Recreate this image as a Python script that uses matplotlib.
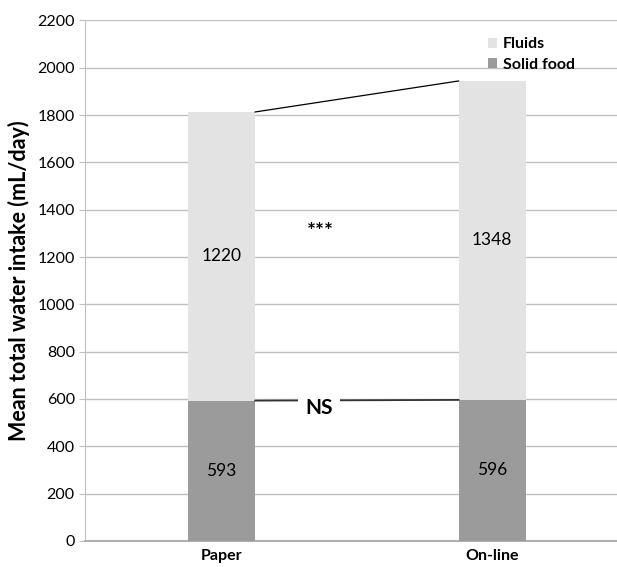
import matplotlib.pyplot as plt
import numpy as np

plt.rcParams['font.family'] = ['Lato', 'DejaVu Sans']

# data
groups = ['Paper', 'On-line']
solid_food = [593, 596]
fluids = [1220, 1348]
y_ticks = list(range(0, 2201, 200))

fluid_col = '#e3e3e3'
solid_col = '#9b9b9b'
grid_col = '#c0c0c0'

fig = plt.figure(figsize=(6.17, 5.67), dpi=100)
ax = fig.add_axes([0.137, 0.046, 0.863, 0.918])

x = np.arange(len(groups))
w = 0.248
totals = [s + f for s, f in zip(solid_food, fluids)]

b1 = ax.bar(x, solid_food, w, color=solid_col, label='Solid food', zorder=3)
b2 = ax.bar(x, fluids, w, bottom=solid_food, color=fluid_col, label='Fluids', zorder=3)

for i in range(len(groups)):
    ax.text(x[i], solid_food[i] / 2, str(solid_food[i]), ha='center', va='center',
            fontsize=12.5, zorder=4)
    ax.text(x[i], solid_food[i] + fluids[i] / 2, str(fluids[i]), ha='center',
            va='center', fontsize=12.5, zorder=4)

# connecting lines between the bars
ax.plot([x[0] + w / 2, x[1] - w / 2], [totals[0], totals[1]], color='black', lw=0.9, zorder=4)
ax.plot([x[0] + w / 2, x[1] - w / 2], [solid_food[0], solid_food[1]], color='#333333',
        lw=1.3, zorder=4)
ax.text(0.365, 1305, '***', ha='center', va='center', fontsize=15, fontweight='bold', zorder=5)
ax.text(0.36, 560, 'NS', ha='center', va='center', fontsize=15, fontweight='bold',
        bbox=dict(facecolor='white', edgecolor='none', pad=5), zorder=5)

ax.set_xlim(-0.507, 1.462)
ax.set_ylim(0, 2200)
ax.set_yticks(y_ticks)
ax.set_xticks(x)
ax.set_xticklabels(groups, fontweight='bold', fontsize=11.5)
ax.tick_params(axis='y', labelsize=11.5, length=4, color=grid_col, pad=3)
ax.tick_params(axis='x', length=0, pad=6)
ax.yaxis.grid(True, color=grid_col, lw=1, zorder=0)
ax.set_axisbelow(True)
for s in ['top', 'right']:
    ax.spines[s].set_visible(False)
ax.spines['left'].set_color(grid_col)
ax.spines['bottom'].set_color('#b0b0b0')
ax.spines['bottom'].set_linewidth(1.5)

ax.set_ylabel('Mean total water intake (mL/day)', fontsize=15.5, fontweight='bold', labelpad=5)

ax.legend(handles=[b2, b1], loc='upper left', bbox_to_anchor=(0.73, 0.995), frameon=False,
          handlelength=0.6, handleheight=0.6, handletextpad=0.35, labelspacing=0.4,
          prop={'weight': 'bold', 'size': 11.5})

plt.savefig('out.png', dpi=100)
